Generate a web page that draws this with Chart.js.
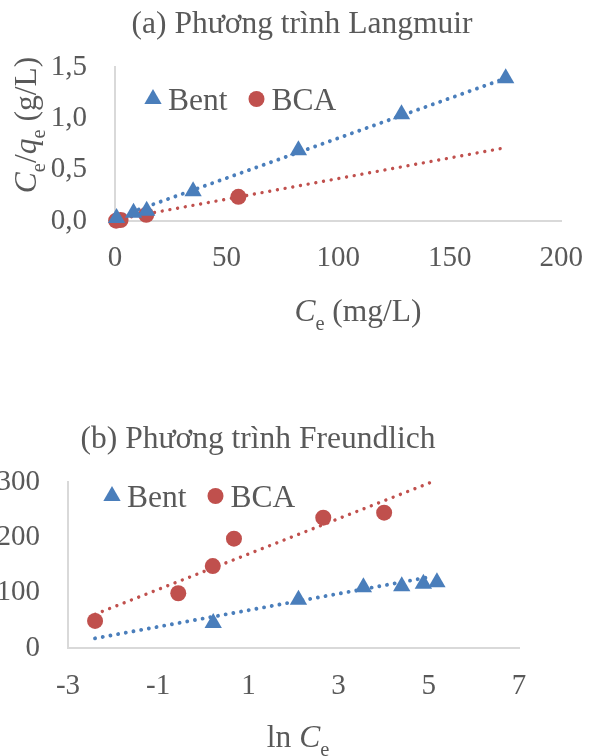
<!DOCTYPE html>
<html lang="vi">
<head>
<meta charset="UTF-8">
<title>Phương trình Langmuir và Freundlich</title>
<script src="https://cdn.jsdelivr.net/npm/chart.js@4.4.1/dist/chart.umd.min.js"></script>
<style>
  html, body { margin: 0; padding: 0; background: #fff; }
  body { width: 603px; height: 756px; position: relative; overflow: hidden; }
  .box { position: absolute; left: 0; width: 603px; }
  #boxA { top: 0; height: 340px; }
  #boxB { top: 380px; height: 376px; }
</style>
</head>
<body>
<div class="box" id="boxA"><canvas id="chartA" width="603" height="340"></canvas></div>
<div class="box" id="boxB"><canvas id="chartB" width="603" height="376"></canvas></div>
<script>
// (a) Langmuir: Ce/qe against Ce
const langBentCe = [0.7, 8.3, 14.2, 35, 82.2, 128.4, 175.1];
const langBentCq = [0.03, 0.08, 0.10, 0.29, 0.69, 1.04, 1.39];
const langBcaCe = [0.5, 2.5, 14, 55.3];
const langBcaCq = [0.003, 0.01, 0.06, 0.235];
// trendline end points
const langBentTrendX = [0.7, 175.1];
const langBentTrendY = [0.035, 1.39];
const langBcaTrendX = [0.5, 174];
const langBcaTrendY = [0.014, 0.71];
const langXTicks = [0, 50, 100, 150, 200];
const langYTicks = [0, 0.5, 1.0, 1.5];

// (b) Freundlich: qe against ln Ce
const freBentLnCe = [0.22, 2.11, 3.55, 4.40, 4.88, 5.18];
const freBentQe = [45, 87, 110, 111.5, 116, 119];
const freBcaLnCe = [-2.40, -0.555, 0.21, 0.68, 2.66, 4.01];
const freBcaQe = [49, 99, 148, 197.5, 235.5, 244.5];
const freBentTrendX = [-2.4, 5.0];
const freBentTrendY = [17.5, 128];
const freBcaTrendX = [-2.4, 5.1];
const freBcaTrendY = [61, 301];
const freXTicks = [-3, -1, 1, 3, 5, 7];
const freYTicks = [0, 100, 200, 300];

const FONT = '"Liberation Serif", "Times New Roman", serif';
const GREY = '#595959';
const BLUE = '#4a7ebb';
const RED = '#c0504d';

function pts(xs, ys) {
  return xs.map((x, i) => ({x: x, y: ys[i]}));
}

function markerSet(label, xs, ys, color, style, r) {
  return {
    label: label, data: pts(xs, ys), showLine: false,
    pointStyle: style, pointRadius: r, pointHoverRadius: r,
    backgroundColor: color, borderColor: color, pointBorderWidth: 0,
    clip: false, inLegend: true
  };
}

function trendSet(xs, ys, color, w) {
  return {
    data: pts(xs, ys), showLine: true, pointRadius: 0,
    borderColor: color, borderWidth: w, borderDash: [0.01, 7.8],
    borderCapStyle: 'round', clip: false
  };
}

function axis(min, max, ticks, fmt, pad, size) {
  return {
    type: 'linear', min: min, max: max,
    grid: {display: false, drawTicks: false},
    border: {display: true, color: '#d9d9d9', width: 2},
    afterBuildTicks: (s) => { s.ticks = ticks.map((v) => ({value: v})); },
    afterFit: (s) => { if (s.isHorizontal()) s.height = size; else s.width = size; },
    ticks: {
      font: {family: FONT, size: 29}, color: GREY, padding: pad,
      autoSkip: false, maxRotation: 0, callback: (v) => fmt(v)
    }
  };
}

// text runs: i = italic, s = subscript
function runWidth(ctx, runs, size) {
  let w = 0;
  runs.forEach((r) => {
    ctx.font = (r.i ? 'italic ' : '') + (r.s ? size * 0.65 : size) + 'px ' + FONT;
    w += ctx.measureText(r.t).width;
  });
  return w;
}

function drawRuns(ctx, runs, x, y, size) {
  let cx = x;
  runs.forEach((r) => {
    ctx.font = (r.i ? 'italic ' : '') + (r.s ? size * 0.65 : size) + 'px ' + FONT;
    ctx.fillText(r.t, cx, y + (r.s ? size * 0.28 : 0));
    cx += ctx.measureText(r.t).width;
  });
}

const textPlugin = {
  id: 'texts',
  afterDraw(chart, args, o) {
    const ctx = chart.ctx;
    const size = 31.5;
    ctx.save();
    ctx.fillStyle = GREY;
    ctx.textAlign = 'left';
    ctx.textBaseline = 'alphabetic';

    // chart title
    ctx.font = size + 'px ' + FONT;
    ctx.textAlign = 'center';
    ctx.fillText(o.title.text, o.title.x, o.title.y);
    ctx.textAlign = 'left';

    // x axis title
    const xw = runWidth(ctx, o.xTitle.runs, size);
    drawRuns(ctx, o.xTitle.runs, o.xTitle.cx - xw / 2, o.xTitle.base, size);

    // y axis title, rotated
    if (o.yTitle) {
      const yw = runWidth(ctx, o.yTitle.runs, size);
      ctx.save();
      ctx.translate(o.yTitle.base, o.yTitle.cy);
      ctx.rotate(-Math.PI / 2);
      drawRuns(ctx, o.yTitle.runs, -yw / 2, 0, size);
      ctx.restore();
    }

    // legend inside the plot
    let lx = o.legend.x;
    const ly = o.legend.y;
    chart.data.datasets.filter((d) => d.inLegend).forEach((d) => {
      ctx.fillStyle = d.backgroundColor;
      Chart.helpers.drawPoint(ctx, {pointStyle: d.pointStyle, radius: d.pointRadius, borderWidth: 0, rotation: 0}, lx, ly);
      ctx.fillStyle = GREY;
      ctx.font = size + 'px ' + FONT;
      ctx.fillText(d.label, lx + 15, ly + 11);
      lx += 15 + ctx.measureText(d.label).width + 29;
    });
    ctx.restore();
  }
};

const comma = (v) => v.toFixed(1).replace('.', ',');
const plain = (v) => String(v);

new Chart(document.getElementById('chartA'), {
  type: 'scatter',
  data: {
    datasets: [
      markerSet('Bent', langBentCe, langBentCq, BLUE, 'triangle', 10),
      markerSet('BCA', langBcaCe, langBcaCq, RED, 'circle', 8),
      trendSet(langBentTrendX, langBentTrendY, BLUE, 3.9),
      trendSet(langBcaTrendX, langBcaTrendY, RED, 3.4)
    ]
  },
  options: {
    responsive: false,
    animation: false,
    layout: {padding: {top: 67, right: 38, left: 0, bottom: 0}},
    scales: {
      x: axis(0, 200, langXTicks, plain, 20, 119),
      y: axis(0, 1.5, langYTicks, comma, 28, 115)
    },
    plugins: {
      legend: {display: false},
      tooltip: {enabled: false},
      texts: {
        title: {text: '(a) Phương trình Langmuir', x: 302, y: 33},
        xTitle: {runs: [{t: 'C', i: 1}, {t: 'e', s: 1}, {t: ' (mg/L)'}], cx: 358, base: 321},
        yTitle: {runs: [{t: 'C', i: 1}, {t: 'e', s: 1}, {t: '/'}, {t: 'q', i: 1}, {t: 'e', s: 1}, {t: ' (g/L)'}], cy: 125, base: 36},
        legend: {x: 153, y: 99}
      }
    }
  },
  plugins: [textPlugin]
});

new Chart(document.getElementById('chartB'), {
  type: 'scatter',
  data: {
    datasets: [
      markerSet('Bent', freBentLnCe, freBentQe, BLUE, 'triangle', 10),
      markerSet('BCA', freBcaLnCe, freBcaQe, RED, 'circle', 8),
      trendSet(freBentTrendX, freBentTrendY, BLUE, 3.9),
      trendSet(freBcaTrendX, freBcaTrendY, RED, 3.4)
    ]
  },
  options: {
    responsive: false,
    animation: false,
    layout: {padding: {top: 102, right: 84, left: 0, bottom: 0}},
    scales: {
      x: axis(-3, 7, freXTicks, plain, 21, 108),
      y: axis(0, 300, freYTicks, plain, 28, 68)
    },
    plugins: {
      legend: {display: false},
      tooltip: {enabled: false},
      texts: {
        title: {text: '(b) Phương trình Freundlich', x: 258, y: 68},
        xTitle: {runs: [{t: 'ln '}, {t: 'C', i: 1}, {t: 'e', s: 1}], cx: 298, base: 367},
        legend: {x: 112, y: 116}
      }
    }
  },
  plugins: [textPlugin]
});
</script>
</body>
</html>
